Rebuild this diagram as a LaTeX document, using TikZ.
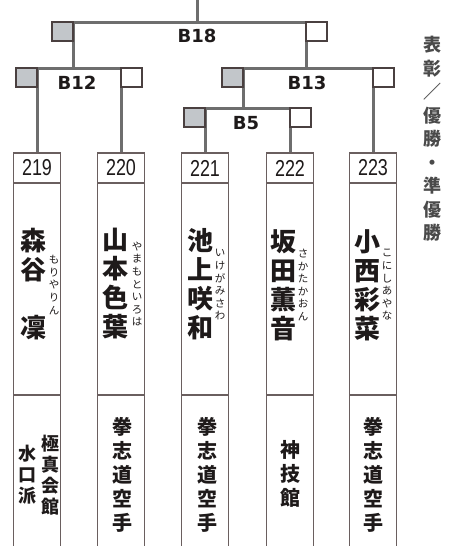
\documentclass[tikz,border=0pt]{standalone}
\usepackage{fontspec}
\usepackage{tikz}
\usetikzlibrary{positioning,backgrounds}
\setmainfont{Liberation Sans}
\newfontfamily\jpfont{Noto Sans CJK JP}
\newfontfamily\numfont[FakeStretch=0.78]{Liberation Sans}
\newfontfamily\matchfont{DejaVu Sans}
\definecolor{linegray}{HTML}{6E6E6E}
\definecolor{boxline}{HTML}{6A5F5F}
\definecolor{sqline}{HTML}{4A4040}
\definecolor{sqfill}{HTML}{C2C6CA}
\definecolor{ink}{HTML}{1E1A1A}
\definecolor{sidegray}{HTML}{4A4A4A}
\tikzset{
	bracket/.style={draw=linegray, line width=3pt},
	winsq/.style={draw=sqline, fill=sqfill, line width=1.3pt, minimum width=21pt, minimum height=19pt, inner sep=0pt, outer sep=0pt},
	losesq/.style={winsq, fill=white},
	numcell/.style={draw=boxline, fill=white, line width=1.4pt, minimum width=47pt, minimum height=30pt, inner sep=0pt, outer sep=0pt, text=ink, font=\numfont\fontsize{23}{23}\selectfont},
	panel/.style={numcell, minimum height=212pt},
	clubcell/.style={numcell, minimum height=170pt},
	matchlabel/.style={font=\matchfont\bfseries\fontsize{18}{18}\selectfont, text=ink, inner sep=0pt},
	namestack/.style={font=\jpfont\bfseries\fontsize{26}{29}\selectfont, align=center, inner sep=0pt, text=ink},
	kanastack/.style={font=\jpfont\fontsize{10.5}{12.6}\selectfont, align=center, inner sep=0pt, text=ink},
	clubstack/.style={font=\jpfont\bfseries\fontsize{20}{24}\selectfont, align=center, inner sep=0pt, text=ink},
	clubsmall/.style={clubstack, font=\jpfont\bfseries\fontsize{18}{21}\selectfont},
	sidetext/.style={font=\jpfont\bfseries\fontsize{18}{23.5}\selectfont, align=center, inner sep=0pt, text=sidegray},
}

\begin{document}
\begin{tikzpicture}[x=1pt, y=-1pt]
	\useasboundingbox (0,0) rectangle (461,546);
	\clip (0,0) rectangle (461,546);

	% entry cells
	\foreach \x/\n in {37/219, 121/220, 205/221, 290/222, 373/223} {
		\node[numcell] (n\n) at (\x,168) {\n};
		\node[panel, anchor=north] (p\n) at (n\n.south) {};
		\node[clubcell, anchor=north] (c\n) at (p\n.south) {};
	}

	% match squares
	\coordinate (top) at (197,0);
	\node[winsq, anchor=north east] (b18w) at (73,22) {};
	\node[losesq, anchor=north west] (b18l) at (306,22) {};
	\node[winsq, anchor=north east] (b12w) at (37,68) {};
	\node[losesq, anchor=north west] (b12l) at (121,68) {};
	\node[winsq, anchor=north east] (b13w) at (243,68) {};
	\node[losesq, anchor=north west] (b13l) at (373,68) {};
	\node[winsq, anchor=north east] (b5w) at (205,108) {};
	\node[losesq, anchor=north west] (b5l) at (290,108) {};

	\begin{scope}[on background layer]
		\draw[bracket] (top) -- (top |- b18w.north);
		\draw[bracket] (b18w.north east) -- (b18l.north west);
		\draw[bracket] (b18w.north east) -- (b18w.north east |- b12w.north);
		\draw[bracket] (b18l.north west) -- (b18l.north west |- b13w.north);
		\draw[bracket] (b12w.north east) -- (b12l.north west);
		\draw[bracket] (b13w.north east) -- (b13l.north west);
		\draw[bracket] (b13w.north east) -- (b13w.north east |- b5w.north);
		\draw[bracket] (b5w.north east) -- (b5l.north west);
		\draw[bracket] (b12w.north east) -- (n219.north);
		\draw[bracket] (b12l.north west) -- (n220.north);
		\draw[bracket] (b5w.north east) -- (n221.north);
		\draw[bracket] (b5l.north west) -- (n222.north);
		\draw[bracket] (b13l.north west) -- (n223.north);
	\end{scope}

	\node[matchlabel] (l18) at (197,36) {B18};
	\node[matchlabel] (l12) at (77,83) {B12};
	\node[matchlabel] (l13) at (307,83) {B13};
	\node[matchlabel] (l5) at (246,123) {B5};

	% names and readings
	\node[namestack] (m219) at (33,284) {森\\谷\\\mbox{}\\凜};
	\node[namestack] (m220) at (115,284) {山\\本\\色\\葉};
	\node[namestack] (m221) at (200,284) {池\\上\\咲\\和};
	\node[namestack] (m222) at (283,285) {坂\\田\\薫\\音};
	\node[namestack] (m223) at (367,285) {小\\西\\彩\\菜};
	\node[kanastack] (k219) at (54,285) {も\\り\\や\\り\\ん};
	\node[kanastack] (k220) at (137,284) {や\\ま\\も\\と\\い\\ろ\\は};
	\node[kanastack] (k221) at (220,285) {い\\け\\が\\み\\さ\\わ};
	\node[kanastack] (k222) at (303,285) {さ\\か\\た\\か\\お\\ん};
	\node[kanastack] (k223) at (387,285) {こ\\に\\し\\あ\\や\\な};

	% dojo
	\node[clubsmall] (s219a) at (50,475) {極\\真\\会\\館};
	\node[clubsmall] (s219b) at (28,475) {水\\口\\派};
	\node[clubstack] (s220) at (122,475) {拳\\志\\道\\空\\手};
	\node[clubstack] (s221) at (207,475) {拳\\志\\道\\空\\手};
	\node[clubstack] (s222) at (290,474) {神\\技\\館};
	\node[clubstack] (s223) at (373,475) {拳\\志\\道\\空\\手};

	\node[sidetext] (award) at (432,139) {表\\彰\\／\\優\\勝\\・\\準\\優\\勝};
\end{tikzpicture}
\end{document}
